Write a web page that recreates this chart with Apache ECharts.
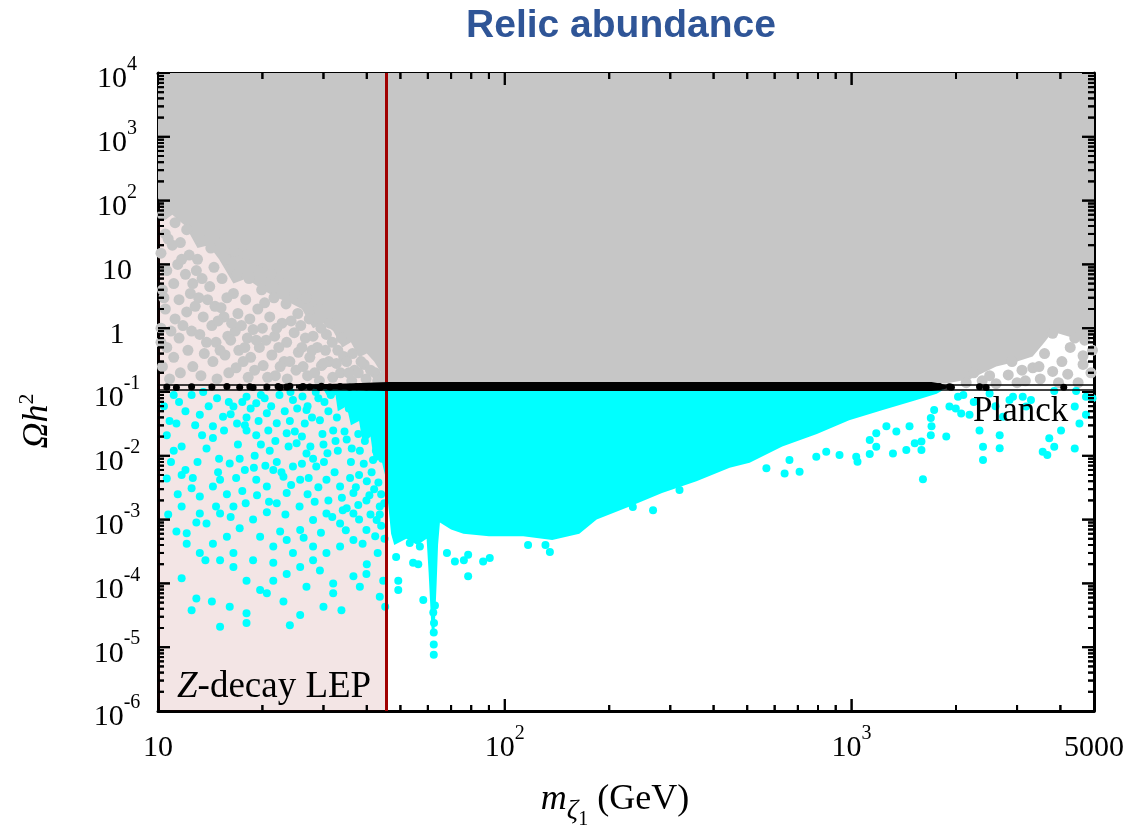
<!DOCTYPE html>
<html>
<head>
<meta charset="utf-8">
<title>Relic abundance</title>
<script src="https://cdn.jsdelivr.net/npm/echarts@6.0.0/dist/echarts.min.js"></script>
<style>
  html, body { margin: 0; padding: 0; background: #fff; }
  #chart { width: 1127px; height: 836px; }
</style>
</head>
<body>
<div id="chart"></div>
<script>
// axis ranges and tick labels
const xMin = 10;
const xMax = 5000;
const yMin = 1e-6;
const yMax = 1e4;
const xTickValues = [10, 100, 1000, 5000];
const xTickLabels = ["10", "10^2", "10^3", "5000"];
const xMajorTicks = [10, 100, 1000];
const yTickValues = [1e-6, 1e-5, 1e-4, 1e-3, 1e-2, 1e-1, 1, 10, 100, 1000, 10000];
const yTickLabels = ["10^-6", "10^-5", "10^-4", "10^-3", "10^-2", "10^-1", "1", "10", "10^2", "10^3", "10^4"];

// constraints
const zLepMass = 45.6;
const planckBand = [0.112, 0.128];

// dense gray area (Omega h^2 above Planck), boundary vertices [m, Omega h^2]
const grayDenseRegion = [
  [10, 1e4], [5000, 1e4], [5000, 0.78], [4540, 0.66], [4200, 0.75], [3800, 0.88], [3600, 0.6],
  [3327, 0.36], [3000, 0.3], [2612, 0.25], [2200, 0.16], [1870, 0.136], [45.6, 0.136],
  [45.6, 0.16], [44, 0.2], [42, 0.3], [40, 0.4], [38, 0.35], [36, 0.6], [34, 0.5], [32, 0.9],
  [30, 1.2], [28, 1.0], [26, 2], [24, 2.5], [22, 3], [20, 4], [18, 6], [16.5, 5], [15, 12],
  [14, 20], [13, 18], [12, 40], [11, 60], [10.5, 50], [10, 110],
];

const grayPoints = [
  [10.3, 60], [10.5, 30], [10.2, 15], [10.6, 8], [10.3, 4], [10.5, 2], [10.2, 1], [10.6, 0.5], [10.3, 0.25], [10.8, 0.16],
  [11.2, 45], [11.0, 20], [11.4, 10], [11.1, 5], [11.5, 2.8], [11.2, 1.4], [11.5, 0.7], [11.1, 0.35], [11.6, 0.2],
  [12.1, 35], [12.3, 14], [12.0, 7], [12.4, 3.5], [12.1, 1.8], [12.5, 0.9], [12.2, 0.45], [12.6, 0.25],
  [13.2, 25], [13.0, 12], [13.4, 6], [13.1, 3], [13.5, 1.5], [13.2, 0.8], [13.6, 0.4], [13.3, 0.18],
  [14.2, 18], [14.5, 9], [14.1, 4.5], [14.6, 2.2], [14.3, 1.1], [14.7, 0.6], [14.4, 0.3], [14.8, 0.16],
  [15.4, 30], [15.7, 12], [15.3, 6], [15.8, 3], [15.5, 1.5], [15.9, 0.75], [15.6, 0.38], [16.0, 0.2],
  [16.6, 16], [16.9, 7], [16.5, 3.5], [17.0, 1.7], [16.7, 0.9], [17.1, 0.45], [16.8, 0.24],
  [18.0, 14], [18.3, 6], [17.9, 2.8], [18.4, 1.4], [18.1, 0.7], [18.5, 0.35], [18.2, 0.17],
  [19.5, 8], [19.9, 4], [19.4, 2], [20.0, 1], [19.6, 0.5], [20.1, 0.26],
  [21.2, 7], [21.6, 3], [21.0, 1.5], [21.7, 0.75], [21.3, 0.38], [21.8, 0.18],
  [23.0, 5], [23.4, 2.4], [22.8, 1.2], [23.5, 0.6], [23.1, 0.3], [23.6, 0.16],
  [24.8, 3.5], [25.3, 1.7], [24.7, 0.85], [25.4, 0.42], [25.0, 0.22],
  [26.8, 3], [27.3, 1.4], [26.6, 0.7], [27.4, 0.35], [27.0, 0.18],
  [29.0, 2], [29.5, 1], [28.8, 0.5], [29.6, 0.26], [29.2, 0.15],
  [31.3, 1.2], [31.8, 0.6], [31.1, 0.3], [31.9, 0.17],
  [33.8, 0.7], [34.3, 0.36], [33.6, 0.2], [36.4, 0.4], [36.9, 0.22], [36.2, 0.15],
  [39.3, 0.27], [39.8, 0.16], [42.3, 0.2], [43.0, 0.15],
  [10.9, 0.9], [11.8, 1.1], [12.8, 2.2], [13.8, 0.6], [14.9, 1.3], [15.1, 0.45], [16.2, 0.65], [17.4, 1.1],
  [17.6, 0.3], [18.8, 0.95], [19.0, 0.22], [20.5, 0.65], [20.7, 0.17], [22.3, 0.5], [22.0, 1.0], [24.0, 0.3],
  [24.2, 1.3], [26.0, 0.5], [26.2, 0.25], [28.0, 0.75], [28.3, 0.2], [30.4, 0.45], [30.6, 0.8], [32.7, 0.28],
  [35.0, 0.3], [37.8, 0.2], [41.0, 0.22], [44.5, 0.17], [10.2, 0.6], [10.4, 3], [11.7, 12], [12.9, 8],
  [10.7, 25], [11.6, 22], [12.6, 5], [13.9, 2.8], [15.2, 2.1], [16.3, 1.2], [17.8, 0.5], [19.2, 0.65],
  [20.3, 2.5], [22.5, 0.25], [25.8, 1.1], [27.8, 0.45], [30.0, 0.28], [33.0, 0.45], [35.5, 0.2], [38.5, 0.3],
  [3800, 0.83], [3330, 0.24], [3800, 0.21], [4500, 0.14], [4650, 0.27], [2830, 0.185], [2380, 0.15],
  [4040, 0.3], [4650, 0.37], [4270, 0.5], [3470, 0.25], [2140, 0.14], [4700, 0.65], [3170, 0.15],
  [2610, 0.135], [2900, 0.3], [3100, 0.22], [3600, 0.4], [4200, 0.19], [4900, 0.2], [4950, 0.45],
  [2250, 0.2], [2500, 0.18], [4400, 0.7], [3000, 0.14], [3500, 0.16], [3950, 0.14],
];

// dense cyan area (Omega h^2 below Planck)
const cyanDenseRegion = [
  [30, 0.11], [1850, 0.11], [1760, 0.094], [1530, 0.074], [1230, 0.052], [984, 0.036], [794, 0.022],
  [631, 0.014], [508, 0.0078], [445, 0.0065], [357, 0.004], [284, 0.0026], [229, 0.0016], [184, 0.001],
  [164, 0.0006], [137, 0.00048], [113, 0.00055], [90, 0.00055], [76, 0.0006], [70, 0.0007], [65, 0.0009],
  [64.2, 0.0004], [63.6, 1e-4], [63.0, 3e-5], [62.6, 1.5e-5], [61.7, 1.5e-5], [61.2, 3e-5], [60.3, 1.5e-4],
  [59.5, 0.0005], [56, 0.0004], [52, 0.0005], [48, 0.0004], [47, 0.0006], [46, 0.002], [45.6, 0.004],
  [44, 0.009], [42, 0.008], [41, 0.02], [39, 0.015], [38, 0.035], [36, 0.03], [35, 0.06], [33, 0.05],
  [32.5, 0.09], [31, 0.08],
];

const cyanPoints = [
  [11.1, 0.09], [12.5, 0.09], [13.2, 0.044], [10.6, 0.021], [11.1, 0.012], [11.7, 0.014], [11.3, 0.032], [10.6, 0.0044], [11.7, 0.005], [12.5, 0.0031],
  [13.2, 0.0023], [14.4, 0.0033], [15.1, 0.0042], [14.4, 0.019], [13.4, 0.021], [14.4, 0.029], [15.4, 0.041], [16.5, 0.059], [16.9, 0.032], [18.0, 0.025],
  [19.2, 0.021], [17.2, 0.009], [16.1, 0.0076], [17.8, 0.006], [19.2, 0.0042], [20.6, 0.0033], [21.5, 0.006], [23.0, 0.0047], [24.5, 0.0068], [25.7, 0.0042],
  [23.5, 0.0026], [22.0, 0.0018], [20.6, 0.0013], [18.8, 0.001], [17.2, 0.00073], [15.8, 0.00054], [14.4, 0.00042], [13.2, 0.0003], [13.7, 0.00023], [15.1, 0.00023],
  [16.5, 0.00018], [18.0, 0.00011], [19.7, 7.9e-5], [21.5, 0.00011], [23.5, 0.00014], [25.7, 0.00018], [28.0, 0.00023], [30.6, 0.0003], [33.5, 0.00038], [36.6, 0.00048],
  [39.9, 0.00069], [42.7, 0.00099], [43.6, 0.0016], [39.9, 0.002], [36.6, 0.0026], [33.5, 0.0033], [30.6, 0.0042], [28.6, 0.0068], [26.8, 0.0109], [25.1, 0.0157],
  [23.5, 0.0225], [22.0, 0.0323], [20.6, 0.0463], [19.2, 0.0664], [18.0, 0.0845], [24.5, 0.075], [26.8, 0.052], [29.3, 0.036], [32.0, 0.025], [35.0, 0.018],
  [38.2, 0.012], [41.7, 0.0086],
  [11.7, 0.00012], [12.9, 5.8e-5], [12.5, 3.8e-5], [14.3, 5.2e-5], [15.1, 2.1e-5], [16.1, 4.3e-5], [18.0, 3.4e-5], [18.0, 2.4e-5], [20.6, 7e-5], [23.0, 5.2e-5],
  [24.0, 2.2e-5], [25.7, 3.2e-5], [30.0, 4.3e-5], [33.8, 3.8e-5], [32.0, 1e-4], [36.6, 0.00013], [39.9, 0.00014], [44.6, 0.00011], [43.6, 6.2e-5], [45.2, 4.3e-5],
  [12.1, 0.00061], [12.1, 0.00042], [11.7, 0.0016], [13.2, 0.00125], [13.8, 0.00087], [11.3, 0.00065], [15.1, 0.00125], [16.5, 0.0016], [19.7, 0.00054], [21.5, 0.00038],
  [23.5, 0.00048], [25.7, 0.00069], [28.0, 0.00099], [30.6, 0.00125], [33.5, 0.00087], [36.6, 0.00125], [16.5, 0.0003], [18.8, 0.00023], [21.5, 0.00021], [24.5, 0.0003],
  [28.0, 0.00038], [29.3, 0.00016], [26.8, 8.9e-5], [32.0, 7e-5], [38.2, 8.9e-5],
  [27, 0.06], [29, 0.08], [31, 0.05], [34, 0.07], [37, 0.04], [39, 0.06], [41, 0.03], [43, 0.02], [30, 0.015], [33, 0.012],
  [36, 0.008], [38, 0.005], [40, 0.004], [42, 0.003], [44, 0.0025], [27, 0.0025], [31, 0.002], [35, 0.0015], [38, 0.001], [41, 0.0012],
  [44, 0.0008], [22, 0.008], [21, 0.012], [19, 0.01], [17, 0.015], [15, 0.009], [13, 0.008], [12, 0.006], [18, 0.04], [16, 0.07],
  [14, 0.06], [24, 0.035], [26, 0.02], [28, 0.009], [45, 0.0005], [43, 0.0003], [40, 0.0002],
  [10.4, 0.06], [10.8, 0.035], [11.5, 0.07], [12, 0.05], [12.8, 0.03], [13.5, 0.1], [14.8, 0.08], [15.5, 0.025], [16.2, 0.045], [17.5, 0.07],
  [17.8, 0.03], [18.5, 0.055], [19.5, 0.035], [19.8, 0.09], [10.9, 0.008], [11.4, 0.0025], [12.6, 0.0045], [13.8, 0.013], [14.9, 0.0055], [15.8, 0.0025],
  [16.8, 0.0045], [17.9, 0.0018], [18.9, 0.0065], [19.8, 0.015], [10.7, 0.0012], [12.9, 0.0009], [14.7, 0.0016], [16.2, 0.0011], [17.5, 0.0028], [19.3, 0.0024],
  [20.3, 0.08], [21.2, 0.06], [22.4, 0.09], [23.2, 0.05], [24.1, 0.1], [25.2, 0.055], [26.1, 0.085], [27.8, 0.04], [28.5, 0.1], [30.2, 0.07],
  [31.5, 0.09], [32.8, 0.04], [33.9, 0.095], [35.5, 0.055], [36.8, 0.08], [38.5, 0.045], [40.2, 0.09], [42.1, 0.07], [43.8, 0.05], [44.8, 0.095],
  [20.8, 0.025], [21.8, 0.017], [23.8, 0.014], [24.8, 0.024], [26.5, 0.032], [27.5, 0.014], [29.8, 0.022], [30.8, 0.011], [32.5, 0.017], [34.5, 0.024],
  [36.2, 0.013], [37.8, 0.022], [39.5, 0.017], [42.5, 0.012], [44.3, 0.009], [20.4, 0.007], [22.7, 0.0055], [24.2, 0.0035], [26, 0.0075], [27.2, 0.0045],
  [29, 0.0032], [30.1, 0.008], [32.3, 0.0055], [33.9, 0.0022], [35.8, 0.0045], [37.2, 0.0032], [39.2, 0.0075], [41.3, 0.0055], [43.2, 0.0038], [20.9, 0.0019],
  [23.3, 0.0012], [25.6, 0.0016], [28.3, 0.0019], [31.8, 0.0011], [34.1, 0.0014], [37.8, 0.0017], [40.7, 0.0024], [43.6, 0.0012], [22.5, 0.00065], [26.3, 0.00052],
  [29.5, 0.00062], [34.8, 0.00068], [38.9, 0.00042], [42.3, 0.00055], [44.9, 0.0018],
  [58.2, 5.5e-5], [49.3, 7.9e-5], [49.3, 1.1e-4], [56.3, 2.0e-4], [78.4, 1.3e-4], [71.8, 2.2e-4], [86.6, 2.2e-4], [90.5, 2.5e-4], [76.2, 2.3e-4], [68.1, 3.0e-4],
  [78.4, 2.8e-4], [116.7, 4e-4], [134.9, 3.1e-4], [131, 4e-4], [48.6, 2.6e-4], [54.4, 2.1e-4], [53.2, 4.3e-4], [56.9, 3.8e-4],
  [62.5, 2.4e-5], [62.4, 1.7e-5], [62.4, 1.1e-5], [62.4, 7.6e-6], [62.2, 3.5e-5], [62.9, 4.5e-5],
  [267.6, 1.4e-3], [234, 1.57e-3], [568, 6.4e-3], [319, 2.9e-3],
  [641, 5.3e-3], [708, 5.6e-3], [662, 8.6e-3], [791, 9.7e-3], [845, 1.16e-2], [923, 1.03e-2], [1031, 9.7e-3], [1040, 8.1e-3], [1128, 1.07e-2], [1178, 1.39e-2],
  [1316, 1.09e-2], [1438, 1.23e-2], [1521, 1.57e-2], [1590, 1.67e-2], [1590, 1.23e-2], [1606, 4.3e-3], [1875, 2.0e-2], [1692, 2.1e-2], [1700, 2.9e-2], [1469, 2.9e-2],
  [1346, 2.4e-2], [1260, 2.9e-2], [1178, 2.25e-2], [1128, 1.77e-2], [1692, 3.9e-2], [1730, 5.2e-2], [1915, 5.9e-2], [2027, 8.4e-2], [2070, 4.6e-2], [1997, 5.5e-2],
  [2188, 4.4e-2], [2338, 2.5e-2], [2393, 1.39e-2], [2393, 8.6e-3], [2673, 2.1e-2], [2673, 1.31e-2], [2853, 7.5e-2], [2920, 8.4e-2], [3115, 8.4e-2], [3185, 5.9e-2],
  [3290, 7.5e-2], [2732, 4.1e-2], [3557, 1.16e-2], [3715, 1.88e-2], [3840, 1.39e-2], [3840, 0.104], [4017, 2.5e-2], [4440, 0.104], [4400, 5.9e-2], [4540, 3.2e-2],
  [4740, 8.4e-2], [4740, 4.4e-2], [4950, 8e-2], [3668, 1.03e-2], [4400, 1.3e-2], [2100, 0.09], [2250, 0.07], [2500, 0.095], [2600, 0.06],
];

// points inside the Planck band
const blackBandRegion = [
  [25, 0.113], [35, 0.108], [46, 0.104], [1700, 0.104], [1880, 0.112],
  [1880, 0.126], [1800, 0.136], [1700, 0.143], [46, 0.143], [35, 0.136], [25, 0.13],
];

const blackPoints = [
  [10.6, 0.12], [11.3, 0.118], [12.5, 0.121], [14.3, 0.12], [15.8, 0.122], [17.2, 0.119], [18.4, 0.121], [18.8, 0.118],
  [20.6, 0.12], [22.2, 0.122], [22.5, 0.118], [23.5, 0.12], [24.0, 0.123], [25.9, 0.119], [26.2, 0.122], [27.4, 0.12],
  [29.3, 0.118], [29.6, 0.123], [31.3, 0.12], [33.5, 0.122], [35.7, 0.119], [37.4, 0.121], [39.9, 0.12], [42.7, 0.122],
  [44.6, 0.119], [1790, 0.122], [1915, 0.121], [1940, 0.119], [2338, 0.121], [2443, 0.118], [4090, 0.119],
];

const SERIF = '"Liberation Serif", "Times New Roman", serif';

function minorTicks(lo, hi) {
  const out = [];
  for (let d = lo; d < hi * 0.999; d *= 10) {
    for (let k = 2; k <= 9; k++) {
      const v = d * k;
      if (v < hi * 0.999) out.push(v);
    }
  }
  return out;
}

function tickRich(label) {
  const parts = label.split("^");
  return parts.length > 1 ? `{b|${parts[0]}}{s|${parts[1]}}` : `{b|${parts[0]}}`;
}

function lookupLabel(values, labels, v) {
  const i = values.findIndex((t) => Math.abs(Math.log10(t) - Math.log10(v)) < 1e-6);
  return i >= 0 ? labels[i] : "";
}

const labelRich = {
  b: { fontFamily: SERIF, fontSize: 30, color: "#000", padding: [13, 0, 0, 0] },
  s: { fontFamily: SERIF, fontSize: 20, color: "#000", padding: [0, 0, 16, 0] },
};

function makeAxis(dim, position, labels) {
  const isX = dim === "x";
  const axis = {
    type: "log",
    logBase: 10,
    min: isX ? xMin : yMin,
    max: isX ? xMax : yMax,
    position,
    axisLine: { show: true, onZero: false, lineStyle: { color: "#000", width: 3 } },
    axisTick: { show: false },
    splitLine: { show: false },
    minorTick: { show: false },
    minorSplitLine: { show: false },
    axisLabel: { show: false },
  };
  if (labels) {
    axis.axisLabel = {
      show: true,
      customValues: isX ? xTickValues : yTickValues,
      margin: isX ? 9 : 41,
      align: "center",
      rich: labelRich,
      formatter: (v) =>
        tickRich(isX ? lookupLabel(xTickValues, xTickLabels, v) : lookupLabel(yTickValues, yTickLabels, v)),
    };
  }
  return axis;
}

function regionSeries(region, fill, z) {
  return {
    type: "custom",
    coordinateSystem: "cartesian2d",
    silent: true,
    z,
    data: region,
    renderItem: (params, api) => {
      if (params.dataIndex !== 0) return null;
      return {
        type: "polygon",
        shape: { points: region.map((p) => api.coord(p)) },
        style: { fill },
      };
    },
  };
}

function pointSeries(data, color, size, z, extra) {
  return Object.assign(
    {
      type: "scatter",
      data,
      symbol: "circle",
      symbolSize: size,
      silent: true,
      z,
      itemStyle: { color, opacity: 1 },
    },
    extra || {}
  );
}

// inward ticks on all four sides, placed with the grid's log scales
const xMinorTicks = minorTicks(xMin, xMax);
const yMinorTicks = minorTicks(yMin, yMax);
const xTickSet = xMajorTicks.map((v) => [v, 12]).concat(xMinorTicks.map((v) => [v, 6]));
const yTickSet = yTickValues.map((v) => [v, 12]).concat(yMinorTicks.map((v) => [v, 6]));

function tickSeries(dim, set) {
  return {
    type: "custom",
    coordinateSystem: "cartesian2d",
    z: 30,
    data: set.map(([v]) => (dim === "x" ? [v, 1] : [100, v])),
    renderItem: (params, api) => {
      const [v, len] = set[params.dataIndex];
      if (dim === "x") {
        const lo = api.coord([v, yMin]);
        const hi = api.coord([v, yMax]);
        return {
          type: "group",
          children: [
            { type: "rect", shape: { x: lo[0] - 1, y: lo[1] - len, width: 2, height: len }, style: { fill: "#000" } },
            { type: "rect", shape: { x: hi[0] - 1, y: hi[1], width: 2, height: len }, style: { fill: "#000" } },
          ],
        };
      }
      const lo = api.coord([xMin, v]);
      const hi = api.coord([xMax, v]);
      return {
        type: "group",
        children: [
          { type: "rect", shape: { x: lo[0], y: lo[1] - 1, width: len, height: 2 }, style: { fill: "#000" } },
          { type: "rect", shape: { x: hi[0] - len, y: hi[1] - 1, width: len, height: 2 }, style: { fill: "#000" } },
        ],
      };
    },
  };
}

const chart = echarts.init(document.getElementById("chart"), null, { renderer: "canvas" });

chart.setOption({
  animation: false,
  backgroundColor: "#fff",
  grid: { left: 158, right: 32, top: 73, bottom: 125 },
  xAxis: [makeAxis("x", "bottom", true), makeAxis("x", "top", false)],
  yAxis: [makeAxis("y", "left", true), makeAxis("y", "right", false)],
  series: [
    tickSeries("x", xTickSet),
    tickSeries("y", yTickSet),
    regionSeries(grayDenseRegion, "#c6c6c6", 1),
    pointSeries(grayPoints, "#c6c6c6", 11, 2),
    regionSeries(cyanDenseRegion, "#00ffff", 3),
    pointSeries(cyanPoints, "#00ffff", 8, 4),
    regionSeries(blackBandRegion, "#000", 6),
    pointSeries(blackPoints, "#000", 7, 7, {
      markLine: {
        silent: true,
        symbol: "none",
        animation: false,
        label: { show: false },
        lineStyle: { color: "#000", width: 1.5, type: "solid" },
        data: planckBand.map((v) => ({ yAxis: v })),
      },
    }),
    pointSeries([[zLepMass, planckBand[0]]], "#a00000", 0, 9, {
      markArea: {
        silent: true,
        itemStyle: { color: "rgba(139,0,0,0.1)" },
        data: [[{ xAxis: xMin }, { xAxis: zLepMass }]],
      },
      markLine: {
        silent: true,
        symbol: "none",
        animation: false,
        label: { show: false },
        lineStyle: { color: "#a00000", width: 3, type: "solid" },
        data: [{ xAxis: zLepMass }],
      },
    }),
  ],
});

// same ticks again as graphic lines (own style objects) so they sit above every series
const toPx = (p) => chart.convertToPixel({ xAxisIndex: 0, yAxisIndex: 0 }, p);
const tickLines = [];
xTickSet.forEach(([v, len]) => {
  const lo = toPx([v, yMin]);
  const hi = toPx([v, yMax]);
  tickLines.push({ type: "line", z: 100, shape: { x1: lo[0], y1: lo[1], x2: lo[0], y2: lo[1] - len }, style: { stroke: "#000", lineWidth: 2 } });
  tickLines.push({ type: "line", z: 100, shape: { x1: hi[0], y1: hi[1], x2: hi[0], y2: hi[1] + len }, style: { stroke: "#000", lineWidth: 2 } });
});
yTickSet.forEach(([v, len]) => {
  const lo = toPx([xMin, v]);
  const hi = toPx([xMax, v]);
  tickLines.push({ type: "line", z: 100, shape: { x1: lo[0], y1: lo[1], x2: lo[0] + len, y2: lo[1] }, style: { stroke: "#000", lineWidth: 2 } });
  tickLines.push({ type: "line", z: 100, shape: { x1: hi[0], y1: hi[1], x2: hi[0] - len, y2: hi[1] }, style: { stroke: "#000", lineWidth: 2 } });
});

chart.setOption({
  graphic: [
    {
      type: "text",
      x: 621,
      y: 26,
      style: {
        text: "Relic abundance",
        font: 'bold 39px "Liberation Sans", Arial, sans-serif',
        fill: "#2f5597",
        align: "center",
        verticalAlign: "middle",
      },
    },
    {
      type: "text",
      x: 38,
      y: 421,
      rotation: Math.PI / 2,
      style: {
        text: "{o|Ω}{h|h}{s|2}",
        align: "center",
        verticalAlign: "middle",
        rich: {
          o: { fontFamily: SERIF, fontStyle: "italic", fontSize: 36, color: "#000" },
          h: { fontFamily: SERIF, fontStyle: "italic", fontSize: 36, color: "#000" },
          s: { fontFamily: SERIF, fontSize: 22, color: "#000", padding: [0, 0, 22, 0] },
        },
      },
    },
    {
      type: "text",
      x: 615,
      y: 800,
      style: {
        text: "{m|m}{z|ζ}{o|1}{g| (GeV)}",
        align: "center",
        verticalAlign: "middle",
        rich: {
          m: { fontFamily: SERIF, fontStyle: "italic", fontSize: 36, color: "#000" },
          z: { fontFamily: SERIF, fontStyle: "italic", fontSize: 28, color: "#000", padding: [22, 0, 0, 0] },
          o: { fontFamily: SERIF, fontSize: 20, color: "#000", padding: [40, 0, 0, 0] },
          g: { fontFamily: SERIF, fontSize: 36, color: "#000" },
        },
      },
    },
    {
      type: "text",
      x: 973,
      y: 412,
      z: 100,
      style: {
        text: "Planck",
        font: `35px ${SERIF}`,
        fill: "#000",
        align: "left",
        verticalAlign: "middle",
      },
    },
    {
      type: "text",
      x: 177,
      y: 687,
      z: 100,
      style: {
        text: "{i|Z}{r|-decay LEP}",
        align: "left",
        verticalAlign: "middle",
        rich: {
          i: { fontFamily: SERIF, fontStyle: "italic", fontSize: 37, color: "#8b1010" },
          r: { fontFamily: SERIF, fontSize: 37, color: "#8b1010" },
        },
      },
    },
    ...tickLines,
  ],
});
</script>
</body>
</html>
